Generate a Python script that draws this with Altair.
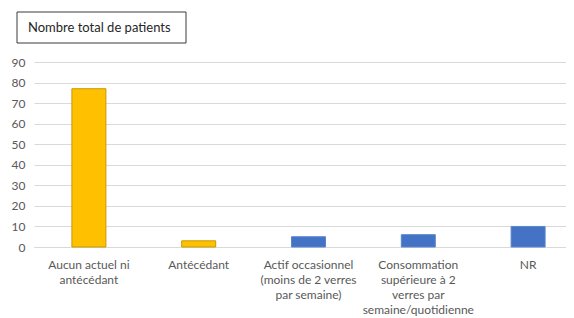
import altair as alt
import pandas as pd

categories = [
    "Aucun actuel ni\nantécédant",
    "Antécédant",
    "Actif occasionnel\n(moins de 2 verres\npar semaine)",
    "Consommation\nsupérieure à 2\nverres par\nsemaine/quotidienne",
    "NR",
]
values = [77, 3, 5, 6, 10]
groups = ["jaune", "jaune", "bleu", "bleu", "bleu"]
title_text = "Nombre total de patients"
y_ticks = [0, 10, 20, 30, 40, 50, 60, 70, 80, 90]

df = pd.DataFrame({"cat": categories, "val": values, "grp": groups})

FONT = "Lato"

bars = alt.Chart(df).mark_bar(size=34, strokeWidth=1).encode(
    x=alt.X(
        "cat:N",
        sort=categories,
        scale=alt.Scale(range=[0, 549]),
        axis=alt.Axis(
            title=None,
            labelAngle=0,
            labelExpr="split(datum.value, '\\n')",
            labelFont=FONT,
            labelFontSize=12,
            labelColor="#595959",
            labelLineHeight=15,
            labelBaseline="top",
            labelPadding=12,
            ticks=False,
            domain=True,
            domainColor="#D9D9D9",
            labelLimit=200,
        ),
    ),
    y=alt.Y(
        "val:Q",
        scale=alt.Scale(domain=[0, 90], nice=False),
        axis=alt.Axis(
            title=None,
            values=y_ticks,
            labelFont=FONT,
            labelFontSize=12,
            labelColor="#595959",
            labelPadding=9,
            ticks=False,
            domain=False,
            gridColor="#D9D9D9",
        ),
    ),
    color=alt.Color(
        "grp:N",
        scale=alt.Scale(domain=["jaune", "bleu"], range=["#FFC000", "#4472C4"]),
        legend=None,
    ),
    stroke=alt.Stroke(
        "grp:N",
        scale=alt.Scale(domain=["jaune", "bleu"], range=["#C99700", "#5A86D0"]),
        legend=None,
    ),
)

box = alt.Chart(pd.DataFrame({"t": [title_text]})).mark_rect(
    fill="white", stroke="#3a3a3a", strokeWidth=1
).encode(
    x=alt.value(-17), x2=alt.value(152), y=alt.value(-50), y2=alt.value(-19)
)

label = alt.Chart(pd.DataFrame({"t": [title_text]})).mark_text(
    align="left", baseline="middle", font=FONT, fontSize=13, color="#262626"
).encode(
    text="t:N", x=alt.value(-6), y=alt.value(-34)
)

chart = alt.layer(bars, box, label).properties(
    width=532,
    height=185,
    autosize=alt.AutoSizeParams(type="none"),
    padding={"left": 26, "top": 54, "right": 0, "bottom": 71},
).configure_view(stroke=None)

chart.save("out.html", embed_options={"renderer": "svg", "actions": False})
